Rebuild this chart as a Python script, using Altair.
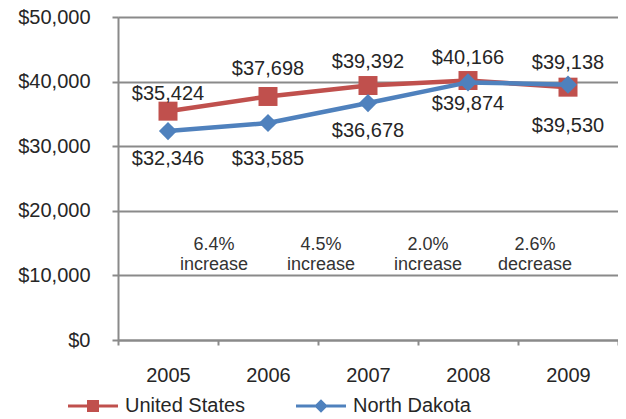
import altair as alt
import pandas as pd

# ---- data ----
years = ["2005", "2006", "2007", "2008", "2009"]
series_names = ["United States", "North Dakota"]
us_values = [35424, 37698, 39392, 40166, 39138]
nd_values = [32346, 33585, 36678, 39874, 39530]
change_pct = ["6.4%", "4.5%", "2.0%", "2.6%"]
change_word = ["increase", "increase", "increase", "decrease"]
# where each change note sits on the year axis (0 = 2005 ... 4 = 2009) and its height in $
change_at = [0.46, 1.53, 2.60, 3.67]
change_level = 14700
y_ticks = [0, 10000, 20000, 30000, 40000, 50000]

# ---- style ----
RED = "#C0504D"
BLUE = "#4F81BD"
GRID = "#8a8a8a"
TEXT = "#262626"
FONT = "Liberation Sans"
us_label_dy = [-17, -27, -24, -23, -24]
nd_label_dy = [28, 36, 28, 22, 41]

rows = []
for name, vals in zip(series_names, [us_values, nd_values]):
    for yr, v in zip(years, vals):
        rows.append({"year": yr, "series": name, "value": v, "label": f"${v:,}"})
df = pd.DataFrame(rows)

notes = pd.DataFrame({
    "pos": change_at,
    "txt": [f"{p}\n{w}" for p, w in zip(change_pct, change_word)],
    "val": [change_level] * len(change_at),
})

x_scale = alt.Scale(type="band", domain=years, paddingInner=0, paddingOuter=0)
x_axis = alt.Axis(
    title=None, labelAngle=0, tickBand="extent", tickSize=5, tickColor=GRID,
    tickWidth=2, domainColor=GRID, domainWidth=2, labelFontSize=20,
    labelColor=TEXT, labelFont=FONT, labelPadding=20, grid=False,
)
x_main = alt.X("year:N", sort=years, scale=x_scale, axis=x_axis)
x_plain = alt.X("year:N", sort=years, scale=x_scale, axis=None)

y_enc = alt.Y(
    "value:Q",
    scale=alt.Scale(domain=[0, 50000], nice=False),
    axis=alt.Axis(
        title=None, values=y_ticks, format="$,.0f", tickSize=6, tickColor=GRID,
        tickWidth=2, domainColor=GRID, domainWidth=2, gridColor=GRID,
        gridWidth=2, labelFontSize=20, labelColor=TEXT, labelFont=FONT,
        labelPadding=22,
    ),
)

base = alt.Chart(df).encode(x=x_plain, y=y_enc)

us = base.transform_filter(alt.datum.series == "United States")
nd = base.transform_filter(alt.datum.series == "North Dakota")

us_line = us.mark_line(color=RED, strokeWidth=4.5)
us_pts = us.mark_point(shape="square", filled=True, color=RED, size=361, opacity=1)
nd_line = nd.mark_line(color=BLUE, strokeWidth=4.5)
nd_pts = nd.mark_point(shape="diamond", filled=True, color=BLUE, size=330, opacity=1)

label_layers = []
for name, dys in zip(series_names, [us_label_dy, nd_label_dy]):
    for yr, dy in zip(years, dys):
        label_layers.append(
            base.transform_filter(
                (alt.datum.series == name) & (alt.datum.year == yr)
            ).mark_text(fontSize=20, font=FONT, color=TEXT, dy=dy, baseline="middle")
            .encode(text="label:N")
        )

# legend carrier (invisible marks, custom line+marker symbols); also carries the x axis
us_sym = "M-1,-0.06H1V0.06H-1Z M-0.24,-0.24H0.24V0.24H-0.24Z"
nd_sym = "M-1,-0.06H1V0.06H-1Z M0,-0.27L0.27,0L0,0.27L-0.27,0Z"
legend = alt.Legend(
    title=None, orient="none", legendX=-50, legendY=364, direction="horizontal",
    symbolSize=2500, symbolOpacity=1, symbolStrokeWidth=0, labelFontSize=20,
    labelFont=FONT, labelColor=TEXT, labelOffset=7, columnPadding=50, padding=0,
    labelLimit=300,
)
legend_layer = base.mark_point(filled=True, opacity=0, size=10).encode(
    x=x_main,
    color=alt.Color("series:N", scale=alt.Scale(domain=series_names, range=[RED, BLUE]),
                    legend=legend, sort=series_names),
    shape=alt.Shape("series:N", scale=alt.Scale(domain=series_names, range=[us_sym, nd_sym]),
                    legend=legend, sort=series_names),
)

notes_layer = alt.Chart(notes).mark_text(
    fontSize=18, font=FONT, color="#333333", lineBreak="\n", lineHeight=20,
    baseline="middle", align="center",
).encode(
    x=alt.X("pos:Q", scale=alt.Scale(domain=[-0.5, 4.5], nice=False, zero=False), axis=None),
    y=alt.Y("val:Q"),
    text="txt:N",
)

chart = alt.layer(
    legend_layer, us_line, us_pts, nd_line, nd_pts, *label_layers, notes_layer
).resolve_scale(x="independent").properties(
    width=500, height=323,
    autosize=alt.AutoSizeParams(type="none"),
    padding={"left": 110, "top": 9, "right": 0, "bottom": 79},
).configure_view(stroke=None).configure(background="white")

chart.save("out.html", embed_options={"renderer": "svg", "actions": False})
